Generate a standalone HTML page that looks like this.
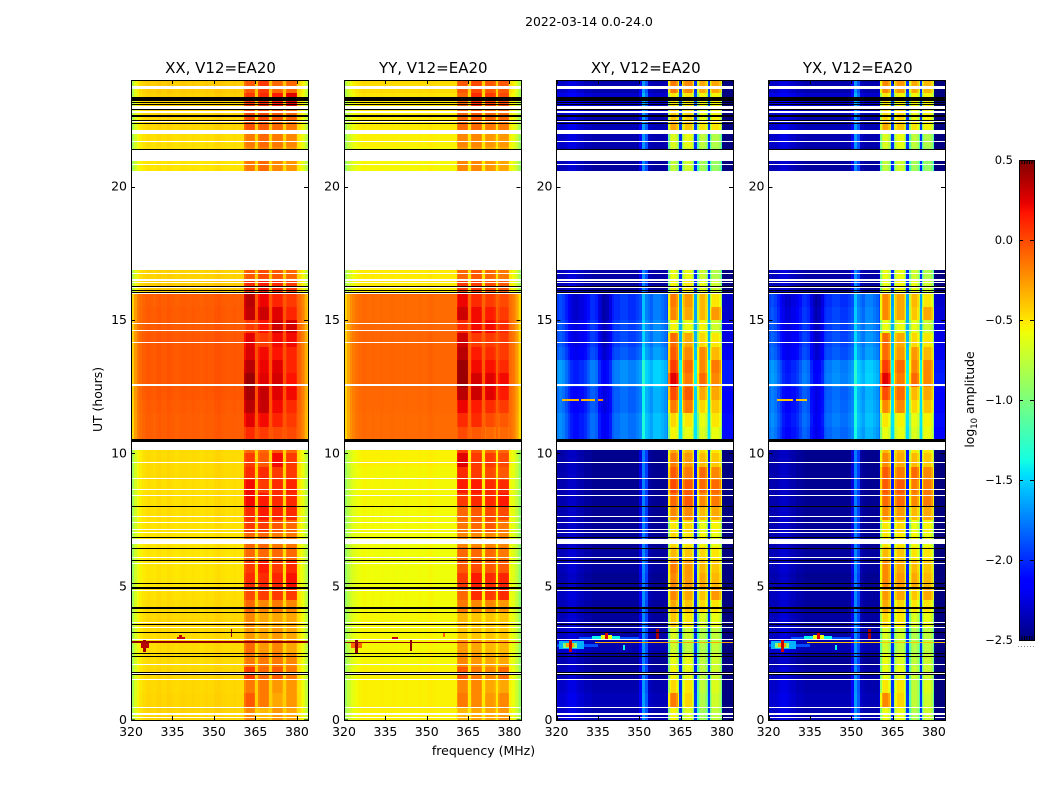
<!DOCTYPE html>
<html lang="en">
<head>
<meta charset="utf-8">
<title>2022-03-14 0.0-24.0</title>
<style>
html,body{margin:0;padding:0;background:#fff;}
svg{display:block;font-family:"DejaVu Sans","Liberation Sans",sans-serif;fill:#000;}
</style>
</head>
<body>
<svg id="chart" xmlns="http://www.w3.org/2000/svg" width="1050" height="800" viewBox="0 0 1050 800">
<rect width="1050" height="800" fill="#fff"/>
<text x="589" y="26" font-size="12.4" text-anchor="middle">2022-03-14 0.0-24.0</text>
<text transform="translate(102,399.5) rotate(-90)" font-size="12.4" text-anchor="middle">UT (hours)</text>
<text x="483.5" y="755" font-size="12.5" text-anchor="middle">frequency (MHz)</text>
<text transform="translate(974,399.5) rotate(-90)" font-size="12.4" text-anchor="middle">log<tspan font-size="8.5" dy="3">10</tspan><tspan dy="-3"> amplitude</tspan></text>
<line x1="1018" x2="1035" y1="646.5" y2="646.5" stroke="#888" stroke-width="1" stroke-dasharray="1 2"/>
</svg>
<script>
// ---------- time bins are 0.5 h wide, from 0 h to 24 h; null = no data ----------
const xxLow=[-.45,-.45,-.46,-.46,-.47,-.47,-.47,-.46,-.47,-.48,-.5,-.5,-.5,-.5,-.49,-.48,-.48,-.48,-.47,-.47,-.47,-.07,-.07,-.06,-.05,-.05,-.05,-.05,-.05,-.06,-.06,-.07,-.42,-.44,null,null,null,null,null,null,null,-.5,-.48,-.48,-.46,-.46,-.44,-.42];
const xxBand1=[-.2,-.05,-.15,.05,-.15,-.1,-.25,-.2,-.1,0,.1,.05,-.1,-.1,.05,.1,.2,.2,.1,.05,-.1,.1,.25,.35,.4,.43,.35,.27,.25,.05,.33,.35,.1,-.05,null,null,null,null,null,null,null,-.15,-.2,-.15,-.02,0,.05,-.05];
const xxBand2=[-.35,-.15,-.15,-.1,-.15,-.25,-.3,-.3,-.2,.05,.1,.15,-.1,-.1,.05,.15,.15,.05,.1,-.05,-.1,.05,.2,.32,.32,.25,.22,.2,.05,.17,.3,.22,.15,0,null,null,null,null,null,null,null,-.1,-.15,-.1,-.05,0,.1,.05];
const xxBand3=[-.25,-.3,-.25,-.05,-.15,-.2,-.25,-.3,-.15,.05,.12,.05,-.1,-.15,-.05,.12,.1,.1,.05,.2,-.05,0,.12,.2,.25,.28,.25,.17,.2,.3,.25,.12,.1,-.05,null,null,null,null,null,null,null,-.2,-.2,-.15,-.1,-.05,.15,-.1];
const xxBand4=[-.3,-.25,-.25,-.15,-.2,-.3,-.3,-.3,-.2,.05,.18,.1,-.1,-.15,-.1,.1,.1,.12,.05,.05,-.1,0,.05,.1,.2,.17,.12,.12,.2,.28,.12,.05,.05,-.1,null,null,null,null,null,null,null,-.25,-.25,-.2,-.15,-.1,.25,-.1];

const yyLow=[-.54,-.54,-.54,-.54,-.56,-.56,-.56,-.56,-.57,-.57,-.58,-.58,-.58,-.58,-.57,-.57,-.56,-.56,-.56,-.54,-.54,-.11,-.11,-.1,-.1,-.09,-.09,-.09,-.09,-.1,-.11,-.11,-.52,-.52,null,null,null,null,null,null,null,-.56,-.56,-.54,-.52,-.52,-.5,-.47];
const yyBand1=[-.35,-.15,-.2,-.05,-.2,-.25,-.4,-.35,-.15,-.1,.05,-.05,-.1,-.2,-.15,-.1,.05,.15,.1,.25,.05,0,.1,.22,.35,.43,.43,.35,.3,.1,.3,.22,.05,-.1,null,null,null,null,null,null,null,-.2,-.25,-.2,-.1,-.1,-.1,-.05];
const yyBand2=[-.3,-.2,-.2,-.15,-.25,-.3,-.4,-.4,-.2,.1,.15,0,-.1,-.2,-.1,-.05,.1,.15,.05,.05,-.05,-.05,.1,.15,.3,.28,.2,.15,.05,.2,.2,.1,.05,-.05,null,null,null,null,null,null,null,-.2,-.25,-.2,-.1,-.05,.1,0];
const yyBand3=[-.3,-.25,-.3,-.2,-.3,-.35,-.4,-.4,-.2,.05,.1,-.05,-.1,-.2,-.05,0,.1,.1,0,.05,-.1,-.1,0,.1,.25,.25,.18,.1,.05,.2,.15,.05,0,-.1,null,null,null,null,null,null,null,-.25,-.3,-.25,-.15,-.1,.05,-.05];
const yyBand4=[-.25,-.2,-.3,-.1,-.3,-.35,-.4,-.4,-.25,.1,.12,-.05,-.15,-.2,-.15,0,.15,.1,-.05,0,-.1,-.1,-.05,.05,.15,.2,.1,.05,.05,.1,.05,0,-.05,-.15,null,null,null,null,null,null,null,-.3,-.3,-.25,-.15,-.1,0,-.05];

const xyLow=[-2.38,-2.35,-2.38,-2.42,-2.44,-2.38,-2.4,-2.42,-2.42,-2.4,-2.45,-2.42,-2.42,-2.44,-2.44,-2.45,-2.45,-2.45,-2.45,-2.46,-2.46,-1.85,-1.85,-1.9,-1.9,-1.8,-1.8,-1.95,-2,-2,-2.05,-2.05,-2.42,-2.4,null,null,null,null,null,null,null,-2.42,-2.4,-2.38,-2.35,-2.38,-2.3,-2.38];
const xyBand1=[-.55,-.15,-.45,-.55,-.6,-.7,-.65,-.4,-.3,-.2,-.2,-.15,-.35,-.45,-.5,-.2,-.1,0,-.05,-.15,-.3,-.55,-.45,-.15,0,.25,.05,-.05,-.1,-.55,-.2,-.15,-.55,-.6,null,null,null,null,null,null,null,-.75,-.7,-.65,-.3,-.4,-.5,-.15];
const xyBand2=[-.65,-.45,-.5,-.6,-.6,-.75,-.7,-.5,-.4,-.3,-.25,-.25,-.4,-.5,-.45,-.2,-.05,-.05,-.15,-.25,-.35,-.6,-.5,-.15,-.05,-.15,-.1,-.2,-.3,-.6,-.3,-.25,-.5,-.6,null,null,null,null,null,null,null,-.7,-.65,-.6,-.4,-.45,-.5,-.2];
const xyBand3=[-.85,-.8,-.75,-.75,-.75,-.8,-.8,-.65,-.45,-.4,-.3,-.35,-.45,-.55,-.6,-.35,-.2,-.1,-.1,-.35,-.45,-.65,-.6,-.45,-.3,-.1,-.2,-.2,-.45,-.55,-.35,-.35,-.6,-.7,null,null,null,null,null,null,null,-.85,-.8,-.75,-.5,-.6,-.55,-.3];
const xyBand4=[-.75,-.7,-.65,-.7,-.7,-.75,-.75,-.6,-.5,-.25,-.35,-.4,-.5,-.6,-.55,-.3,-.15,-.1,-.2,-.4,-.5,-.6,-.5,-.4,-.3,-.2,-.15,-.35,-.5,-.7,-.25,-.5,-.7,-.8,null,null,null,null,null,null,null,-.9,-.85,-.8,-.5,-.55,-.55,-.3];

const yxLow=[-2.38,-2.36,-2.38,-2.4,-2.44,-2.38,-2.4,-2.41,-2.42,-2.41,-2.45,-2.42,-2.42,-2.44,-2.44,-2.44,-2.45,-2.45,-2.45,-2.46,-2.46,-1.88,-1.85,-1.88,-1.9,-1.8,-1.82,-1.95,-1.98,-2,-2.02,-2.05,-2.42,-2.4,null,null,null,null,null,null,null,-2.42,-2.41,-2.38,-2.36,-2.38,-2.3,-2.38];
const yxBand1=[-.6,-.2,-.5,-.6,-.6,-.7,-.65,-.45,-.3,-.25,-.2,-.2,-.35,-.5,-.5,-.2,-.1,-.05,-.05,-.2,-.35,-.6,-.5,-.2,0,.25,.05,-.1,-.1,-.6,-.2,-.2,-.6,-.6,null,null,null,null,null,null,null,-.75,-.7,-.65,-.3,-.45,-.5,-.2];
const yxBand2=[-.6,-.45,-.5,-.6,-.65,-.75,-.7,-.5,-.45,-.3,-.25,-.3,-.4,-.5,-.45,-.25,-.1,-.05,-.15,-.3,-.35,-.6,-.55,-.2,-.1,-.15,-.1,-.25,-.3,-.6,-.3,-.3,-.55,-.6,null,null,null,null,null,null,null,-.7,-.65,-.6,-.4,-.45,-.55,-.25];
const yxBand3=[-.8,-.75,-.75,-.7,-.75,-.8,-.8,-.65,-.5,-.4,-.3,-.35,-.5,-.55,-.6,-.35,-.2,-.15,-.1,-.35,-.5,-.65,-.6,-.45,-.35,-.1,-.2,-.25,-.45,-.6,-.4,-.35,-.6,-.7,null,null,null,null,null,null,null,-.85,-.8,-.75,-.5,-.6,-.55,-.3];
const yxBand4=[-.7,-.7,-.65,-.7,-.7,-.75,-.75,-.6,-.5,-.3,-.35,-.4,-.5,-.6,-.55,-.3,-.15,-.15,-.2,-.4,-.5,-.6,-.55,-.4,-.3,-.2,-.2,-.35,-.5,-.7,-.3,-.5,-.7,-.8,null,null,null,null,null,null,null,-.9,-.85,-.8,-.55,-.55,-.55,-.35];

// ---------- channel shapes: 320–359 MHz at 1 MHz, 360–383.5 MHz at 0.5 MHz ----------
const xxLowShape=[-.38,-.2,-.1,-.05,-.02,0,.01,0,-.01,.01,.02,0,0,.02,.01,0,-.01,0,.01,.01,0,0,.01,0,0,-.01,0,.01,0,0,.02,.03,.02,.01,0,0,0,.01,0,0];
const yyLowShape=[-.34,-.2,-.12,-.07,-.03,-.01,0,.01,0,0,.01,0,0,.01,0,0,0,.01,0,0,0,0,.01,0,0,0,0,.01,0,0,.01,.02,.01,0,0,0,0,0,0,0];
const crossQuietShape=[.07,.07,.07,.1,.14,.14,.14,.1,.07,.07,.03,.03,.03,0,0,0,0,0,0,0,0,0,0,0,0,0,0,0,0,0,.2,.7,.5,.05,.02,0,0,0,0,0];
const crossActiveShape=[.1,.15,.1,0,-.1,-.2,-.25,-.25,-.2,-.2,-.15,-.05,.05,.05,0,-.2,-.3,-.35,-.3,-.2,0,.05,.05,.1,.1,.1,.05,.05,.05,.1,.15,.5,.3,.25,.2,.3,.3,.3,.25,.2];
const parallelHighShape=[0,0,-.08,0,0,0,0,0,0,-.05,.03,.03,-.05,0,0,0,0,0,0,-.05,.03,.03,-.05,0,0,0,0,0,0,-.05,.03,.03,-.05,0,0,0,0,0,0,-.05,0,-.02,-.05,-.08,-.12,-.18,-.26,-.36];
const crossHighShape=[.1,-.4,-.1,0,0,0,0,-.1,-.4,.4,.4,-.4,-.1,0,0,0,0,0,-.1,-.4,.4,.4,-.4,-.1,0,0,0,0,-.1,-.4,.4,-.4,-.1,0,0,0,0,0,-.1,-.4,-.25,-.25,-.25,-.25,-.25,-.25,-.25,-.25];
const parallelBandIndex=[-1,-1,0,0,0,0,0,0,0,0,-1,-1,1,1,1,1,1,1,1,1,-1,-1,2,2,2,2,2,2,2,2,-1,-1,3,3,3,3,3,3,3,3,-1,-1,-1,-1,-1,-1,-1,-1];
const crossBandIndex=[-1,0,0,0,0,0,0,0,0,-1,-1,1,1,1,1,1,1,1,1,1,-1,-1,2,2,2,2,2,2,2,2,-1,3,3,3,3,3,3,3,3,3,-1,-1,-1,-1,-1,-1,-1,-1];

// ---------- flagged time ranges (hours) ----------
const whiteBands=[[.09,.12],[.17,.25],[.46,.49],[1.52,1.55],[1.74,1.8],[2.08,2.11],[3.01,3.04],[3.47,3.5],[3.65,3.68],[4.86,4.89],[5.87,5.9],[6.09,6.12],[6.6,6.78],[7.01,7.04],[7.14,7.17],[7.4,7.43],[7.6,7.66],[8.41,8.44],[8.61,8.66],[9.05,9.08],[9.65,9.68],[10.12,10.42],[12.52,12.55],[12.57,12.6],[14.15,14.19],[14.6,14.64],[14.86,14.9],[15.98,16.03],[16.07,16.12],[16.2,16.24],[16.38,16.42],[16.48,16.52],[16.72,16.76],[16.88,20.6],[20.81,20.85],[20.96,21.39],[21.69,21.73],[21.98,22.12],[22.42,22.46],[22.75,22.84],[22.9,23.04],[23.66,23.78]];
const blackLines=[1.71,1.81,2.39,2.52,3.31,3.59,4.04,5.13,5.99,6.44,6.88,8.02,16.05,16.14,16.26,21.41,22.4,22.5,22.9,23.1,23.16];
const blackBands=[[4.16,4.24],[4.91,4.98],[10.42,10.52],[22.63,22.67],[23.22,23.36]];

// ---------- interference features: start MHz, end MHz, start h, end h, log amplitude ----------
const xxFeatures=[[320,384,2.88,2.97,.45],[324.5,325.5,2.55,3.05,.4],[323.5,326.5,2.7,2.9,.35],[336.5,339.5,3.05,3.12,.3],[337.5,338.5,3.12,3.2,.35],[356,356.5,3.1,3.4,.4]];
const yyFeatures=[[320,384,2.9,2.94,.45],[322.5,326.5,2.7,2.9,-.1],[324,325,2.5,3.05,.45],[337.5,339.5,3.04,3.12,.3],[344,344.5,2.6,3,.45],[356,356.5,3.1,3.3,-.1]];
const xyFeatures=[[320,335,2.75,2.85,-1.9],[321,330,2.65,2.95,-1.6],[322.5,327.5,2.7,2.9,-1],[323.5,326.5,2.72,2.88,-.3],[324.5,325.5,2.55,3.05,.3],[328,350,3.05,3.12,-1.9],[333,343,3.05,3.15,-1.4],[336,340,3.05,3.2,-.6],[337.5,338.5,3.05,3.25,.25],[356,357,3,3.4,.4],[334,384,2.88,2.92,-.3],[344,345,2.62,2.81,-1.4],[322,328,11.98,12.04,-.35],[329,334,11.98,12.04,-.35],[335,337,11.98,12.04,-.2]];
const yxFeatures=[[320,335,2.75,2.85,-1.9],[321,330,2.65,2.95,-1.6],[322.5,327.5,2.7,2.9,-1],[323.5,326.5,2.72,2.88,-.3],[324.5,325.5,2.55,3.05,.3],[328,350,3.05,3.12,-1.9],[333,343,3.05,3.15,-1.4],[336,340,3.05,3.2,-.6],[337.5,338.5,3.05,3.25,.25],[356,357,3,3.4,.4],[334,384,2.88,2.92,-.4],[344,345,2.62,2.81,-1.4],[323,329,11.98,12.04,-.4],[330,334,11.98,12.04,-.4]];

// ---------- axis ticks ----------
const freqTicks=[320,335,350,365,380];
const hourTicks=[0,5,10,15,20];
const colorTicks=[.5,0,-.5,-1,-1.5,-2,-2.5];
const colorbarEndTicks=[1,2,3,4,5];

const panels=[
 {id:'xx',title:'XX, V12=EA20',left:131,width:177,low:xxLow,bands:[xxBand1,xxBand2,xxBand3,xxBand4],quiet:xxLowShape,active:xxLowShape,high:parallelHighShape,bandIndex:parallelBandIndex,features:xxFeatures},
 {id:'yy',title:'YY, V12=EA20',left:344,width:176.5,low:yyLow,bands:[yyBand1,yyBand2,yyBand3,yyBand4],quiet:yyLowShape,active:yyLowShape,high:parallelHighShape,bandIndex:parallelBandIndex,features:yyFeatures},
 {id:'xy',title:'XY, V12=EA20',left:556.5,width:176.5,low:xyLow,bands:[xyBand1,xyBand2,xyBand3,xyBand4],quiet:crossQuietShape,active:crossActiveShape,high:crossHighShape,bandIndex:crossBandIndex,features:xyFeatures},
 {id:'yx',title:'YX, V12=EA20',left:768.5,width:176.5,low:yxLow,bands:[yxBand1,yxBand2,yxBand3,yxBand4],quiet:crossQuietShape,active:crossActiveShape,high:crossHighShape,bandIndex:crossBandIndex,features:yxFeatures}
];

const SVGNS='http://www.w3.org/2000/svg';
const svg=document.getElementById('chart');
const plotTop=80,plotBottom=720,freqMin=320,freqMax=384,hourMax=24,binHours=.5;
const colorMin=-2.5,colorMax=.5;
const cbLeft=1019,cbRight=1034,cbTop=160,cbBottom=640;

function yScale(h){return plotBottom-h*(plotBottom-plotTop)/hourMax;}
function xScaleFor(p){return f=>p.left+(f-freqMin)*p.width/(freqMax-freqMin);}
function cbScale(v){return cbBottom-(v-colorMin)*(cbBottom-cbTop)/(colorMax-colorMin);}
function ramp(t,pts){
  for(let i=1;i<pts.length;i++){
    if(t<=pts[i][0]){
      const a=pts[i-1],b=pts[i];
      return a[1]+(b[1]-a[1])*(t-a[0])/(b[0]-a[0]);
    }
  }
  return pts[pts.length-1][1];
}
function jet(v){
  const t=Math.max(0,Math.min(1,(v-colorMin)/(colorMax-colorMin)));
  const r=ramp(t,[[0,0],[.35,0],[.66,1],[.89,1],[1,.5]]);
  const g=ramp(t,[[0,0],[.125,0],[.375,1],[.64,1],[.91,0],[1,0]]);
  const b=ramp(t,[[0,.5],[.11,1],[.34,1],[.65,0],[1,0]]);
  return 'rgb('+Math.round(r*255)+','+Math.round(g*255)+','+Math.round(b*255)+')';
}
function make(tag,parent,attrs){
  const el=document.createElementNS(SVGNS,tag);
  for(const k in attrs){el.setAttribute(k,attrs[k]);}
  parent.appendChild(el);
  return el;
}
function box(parent,x0,x1,y0,y1,fill){
  const l=Math.round(Math.min(x0,x1)),r=Math.round(Math.max(x0,x1));
  const t=Math.round(Math.min(y0,y1)),b=Math.round(Math.max(y0,y1));
  return make('rect',parent,{x:l,y:t,width:Math.max(1,r-l),height:Math.max(1,b-t),fill:fill,'shape-rendering':'crispEdges'});
}
function channelList(){
  const list=[];
  for(let i=0;i<40;i++){list.push({f0:320+i,f1:321+i,lowIndex:i,highIndex:-1});}
  for(let i=0;i<48;i++){list.push({f0:360+i*.5,f1:360.5+i*.5,lowIndex:-1,highIndex:i});}
  return list;
}
const channels=channelList();

function cellValue(p,row,ch){
  const low=p.low[row];
  if(low===null){return null;}
  if(ch.lowIndex>=0){
    const shape=low>-2.15?p.active:p.quiet;
    return low+shape[ch.lowIndex];
  }
  const band=p.bandIndex[ch.highIndex];
  const offset=p.high[ch.highIndex];
  return (band>=0?p.bands[band][row]:low)+offset;
}

panels.forEach(p=>{
  const x=xScaleFor(p);
  const group=make('g',svg,{});
  
  

  const title=make('text',group,{x:p.left+p.width/2+1,y:73,'font-size':15,'text-anchor':'middle'});
  title.textContent=p.title;
  
  

  const cells=make('g',group,{});
  
  
  p.low.forEach((_,row)=>{
    channels.forEach(ch=>{
      const v=cellValue(p,row,ch);
      if(v===null){return;}
      const cell=box(cells,x(ch.f0),x(ch.f1),yScale(row*binHours),yScale((row+1)*binHours),jet(v));
      
      
    });
  });

  p.features.forEach(f=>{
    const mark=box(group,x(f[0]),x(f[1]),yScale(f[2]),yScale(f[3]),jet(f[4]));
    
    
  });

  whiteBands.forEach(b=>{
    const mark=box(group,x(freqMin),x(freqMax),yScale(b[0]),yScale(b[1]),'#fff');
    
    
  });
  blackBands.forEach(b=>{
    const mark=box(group,x(freqMin),x(freqMax),yScale(b[0]),yScale(b[1]),'#000');
    
    
  });
  blackLines.forEach(h=>{
    const mark=box(group,x(freqMin),x(freqMax),yScale(h),yScale(h)+1,'#000');
    
    
  });

  freqTicks.forEach(t=>{
    const px=Math.round(x(t))+.5;
    const tickA=make('line',group,{x1:px,x2:px,y1:plotBottom,y2:plotBottom-4,stroke:'#000'});
    
    
    const tickB=make('line',group,{x1:px,x2:px,y1:plotTop,y2:plotTop+4,stroke:'#000'});
    
    
    const label=make('text',group,{x:x(t),y:736,'font-size':12.5,'text-anchor':'middle'});
    label.textContent=t;
    
    
  });
  hourTicks.forEach(t=>{
    const py=Math.round(yScale(t))+(t===0?0:.5);
    const tickA=make('line',group,{x1:p.left,x2:p.left+4,y1:py,y2:py,stroke:'#000'});
    
    
    const tickB=make('line',group,{x1:p.left+p.width,x2:p.left+p.width-4,y1:py,y2:py,stroke:'#000'});
    
    
    const label=make('text',group,{x:p.left-4,y:yScale(t)+4,'font-size':12.5,'text-anchor':'end'});
    label.textContent=t;
    
    
  });

  const frame=make('rect',group,{x:Math.floor(p.left)+.5,y:plotTop+.5,width:Math.round(p.width),height:plotBottom-plotTop,fill:'none',stroke:'#000','stroke-width':1});
  
  
});

// ---------- colorbar ----------
const cb=make('g',svg,{});


for(let py=cbTop;py<cbBottom;py++){
  const v=colorMax-(py+.5-cbTop)*(colorMax-colorMin)/(cbBottom-cbTop);
  const slice=box(cb,cbLeft,cbRight,cbScale(v)-.5,cbScale(v)+.5,jet(v));
  
  
}
colorbarEndTicks.forEach(i=>{
  const px=cbLeft+(cbRight-cbLeft)*i/6+.5;
  const top=make('line',cb,{x1:px,x2:px,y1:cbTop,y2:cbTop+4,stroke:'#000'});
  
  
  const bottom=make('line',cb,{x1:px,x2:px,y1:cbBottom,y2:cbBottom-4,stroke:'#000'});
  
  
});
colorTicks.forEach(t=>{
  const py=Math.round(cbScale(t))+.5;
  const tickA=make('line',cb,{x1:cbLeft,x2:cbLeft+4,y1:py,y2:py,stroke:'#000'});
  
  
  const tickB=make('line',cb,{x1:cbRight,x2:cbRight-4,y1:py,y2:py,stroke:'#000'});
  
  
  const label=make('text',cb,{x:1013,y:cbScale(t)+4,'font-size':11.5,'text-anchor':'end'});
  label.textContent=(t<0?'\u2212':'')+Math.abs(t).toFixed(1);
  
  
});
const cbFrame=make('rect',cb,{x:cbLeft+.5,y:cbTop+.5,width:cbRight-cbLeft,height:cbBottom-cbTop,fill:'none',stroke:'#000','stroke-width':1});


</script>
</body>
</html>
